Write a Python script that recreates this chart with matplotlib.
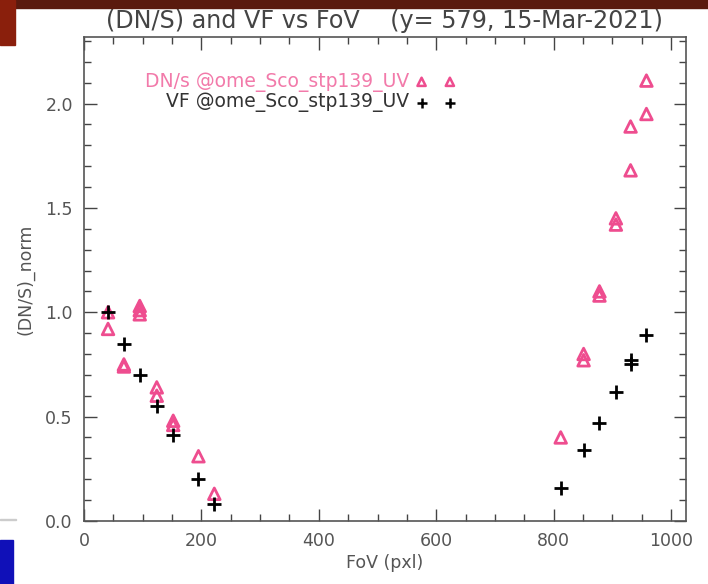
import matplotlib
matplotlib.use("Agg")
import matplotlib.pyplot as plt
from matplotlib.patches import Rectangle
from matplotlib.ticker import MultipleLocator, FormatStrFormatter

# ----------------------------------------------------------------------------
# Data (FoV pixel, normalised value)
# ----------------------------------------------------------------------------
dns_fov = [41, 41, 68, 68, 95, 95, 95, 124, 124, 152, 152, 195, 222,
           812, 851, 851, 878, 878, 906, 906, 931, 931, 958, 958]
dns_val = [1.00, 0.92, 0.75, 0.74, 1.03, 1.01, 0.99, 0.64, 0.60, 0.48, 0.46, 0.31, 0.13,
           0.40, 0.80, 0.77, 1.10, 1.08, 1.45, 1.42, 1.89, 1.68, 2.11, 1.95]

vf_fov = [41, 68, 95, 124, 152, 195, 222,
          812, 851, 878, 906, 932, 932, 958]
vf_val = [1.00, 0.85, 0.70, 0.55, 0.41, 0.20, 0.08,
          0.16, 0.34, 0.47, 0.62, 0.77, 0.75, 0.89]

legend_labels = ["DN/s @ome_Sco_stp139_UV", "VF @ome_Sco_stp139_UV"]
title = "(DN/S) and VF vs FoV    (y= 579, 15-Mar-2021)"

PINK = "#ee4d8f"
PINK_TXT = "#f27aaa"
GREY = "#555555"

fig = plt.figure(figsize=(7.08, 5.84), dpi=100)

# slide decorations around the screenshot
fig.patches.append(Rectangle((0, 0.986), 1, 0.014, transform=fig.transFigure,
                             color="#5a1a0e", zorder=0))
fig.patches.append(Rectangle((0, 0.923), 0.021, 0.077, transform=fig.transFigure,
                             color="#8a1f0c", zorder=0))
fig.patches.append(Rectangle((0, 0.0), 0.019, 0.075, transform=fig.transFigure,
                             color="#1010b8", zorder=0))
fig.patches.append(Rectangle((0, 0.109), 0.022, 0.003, transform=fig.transFigure,
                             color="#cccccc", zorder=0))

ax = fig.add_axes([0.1186, 0.108, 0.850, 0.829])

ax.scatter(dns_fov, dns_val, marker="^", s=70, facecolors="none",
           edgecolors=PINK, linewidths=2.0, zorder=3)
ax.scatter(vf_fov, vf_val, marker="+", s=110, color="black",
           linewidths=2.0, zorder=4)

ax.set_xlim(0, 1025)
ax.set_ylim(0, 2.32)
ax.xaxis.set_major_locator(MultipleLocator(200))
ax.xaxis.set_minor_locator(MultipleLocator(50))
ax.yaxis.set_major_locator(MultipleLocator(0.5))
ax.yaxis.set_minor_locator(MultipleLocator(0.1))
ax.yaxis.set_major_formatter(FormatStrFormatter("%.1f"))

ax.tick_params(which="both", direction="in", top=True, right=True,
               color="#444444", labelcolor=GREY, labelsize=12.5, pad=8)
ax.tick_params(which="major", length=9, width=1)
ax.tick_params(which="minor", length=5, width=1)
for s in ax.spines.values():
    s.set_color(GREY)
    s.set_linewidth(1.2)

ax.set_xlabel("FoV (pxl)", fontsize=12.5, color=GREY, labelpad=3)
ax.set_ylabel("(DN/S)_norm", fontsize=12.5, color=GREY, labelpad=8)
ax.set_title(title, fontsize=17.2, color="#444444", pad=6)

# IDL-style legend: label then two symbols
ax.text(0.541, 0.907, legend_labels[0], transform=ax.transAxes, ha="right",
        va="center", fontsize=13.5, color=PINK_TXT)
ax.text(0.541, 0.864, legend_labels[1], transform=ax.transAxes, ha="right",
        va="center", fontsize=13.5, color="#333333")
ax.scatter([0.561, 0.608], [0.907, 0.907], transform=ax.transAxes, marker="^",
           s=35, facecolors="none", edgecolors=PINK, linewidths=1.8)
ax.scatter([0.561, 0.608], [0.864, 0.864], transform=ax.transAxes, marker="+",
           s=50, color="black", linewidths=1.8)

fig.savefig("out.png", dpi=100)
